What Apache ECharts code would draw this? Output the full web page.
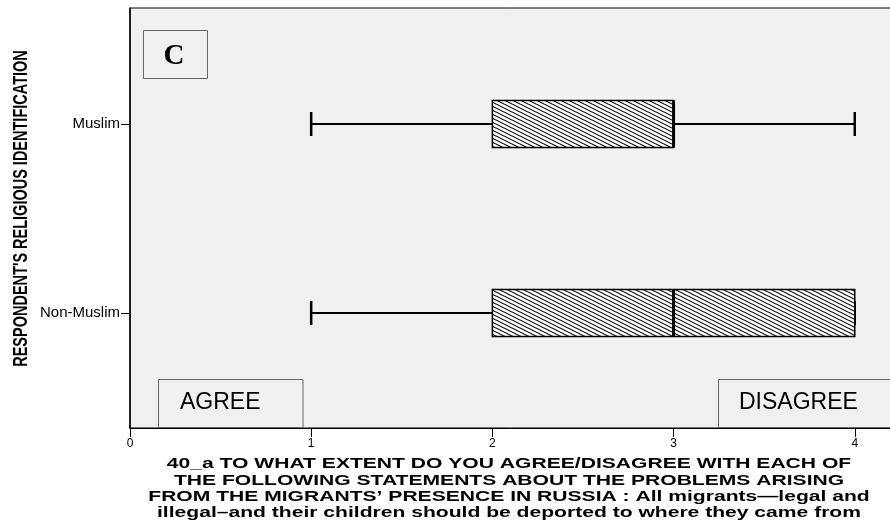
<!DOCTYPE html>
<html>
<head>
<meta charset="utf-8">
<script src="https://cdn.jsdelivr.net/npm/echarts@6/dist/echarts.min.js"></script>
<style>
html,body{margin:0;padding:0;background:#fff;overflow:hidden;}
#chart{width:890px;height:524px;}
</style>
</head>
<body>
<div id="chart"></div>
<script>
// ---- data ----
const categories = ['Muslim', 'Non-Muslim'];
const whiskerLow = [1, 1];
const quartile1 = [2, 2];
const medians = [3, 3];
const quartile3 = [3, 4];
const whiskerHigh = [4, 4];
const xTicks = [0, 1, 2, 3, 4];
const xTitleLines = [
  '40_a TO WHAT EXTENT DO YOU AGREE/DISAGREE WITH EACH OF',
  'THE FOLLOWING STATEMENTS ABOUT THE PROBLEMS ARISING',
  'FROM THE MIGRANTS\u2019 PRESENCE IN RUSSIA : All migrants\u2014legal and',
  'illegal\u2013and their children should be deported to where they came from'
];
const yTitle = 'RESPONDENT\'S RELIGIOUS IDENTIFICATION';

// ---- hatch pattern ----
const tile = document.createElement('canvas');
tile.width = 8; tile.height = 4;
const ctx = tile.getContext('2d');
ctx.fillStyle = '#fff';
ctx.fillRect(0, 0, 8, 4);
ctx.strokeStyle = '#000';
ctx.lineWidth = 1.1;
for (let k = -2; k <= 2; k++) {
  ctx.beginPath();
  ctx.moveTo(0, k * 4);
  ctx.lineTo(8, k * 4 + 4);
  ctx.stroke();
}
const hatch = { image: tile, repeat: 'repeat' };

const boxData = categories.map((c, i) => [c, whiskerLow[i], quartile1[i], medians[i], quartile3[i], whiskerHigh[i]]);

function renderBox(params, api) {
  const cat = api.value(0);
  const lo = api.coord([api.value(1), cat]);
  const q1 = api.coord([api.value(2), cat]);
  const md = api.coord([api.value(3), cat]);
  const q3 = api.coord([api.value(4), cat]);
  const hi = api.coord([api.value(5), cat]);
  const band = api.size([0, 1])[1];
  const bh = band * 0.249;
  const ch = band * 0.127;
  const y = lo[1];
  const stroke = '#000';
  return {
    type: 'group',
    children: [
      { type: 'line', shape: { x1: lo[0], y1: y, x2: q1[0], y2: y }, style: { stroke, lineWidth: 2 } },
      { type: 'line', shape: { x1: q3[0], y1: y, x2: hi[0], y2: y }, style: { stroke, lineWidth: 2 } },
      { type: 'line', shape: { x1: lo[0], y1: y - ch / 2, x2: lo[0], y2: y + ch / 2 }, style: { stroke, lineWidth: 2.5 } },
      { type: 'line', shape: { x1: hi[0], y1: y - ch / 2, x2: hi[0], y2: y + ch / 2 }, style: { stroke, lineWidth: 2.5 } },
      { type: 'rect', shape: { x: q1[0], y: y - bh / 2, width: q3[0] - q1[0], height: bh }, style: { fill: hatch, stroke, lineWidth: 1.5 } },
      { type: 'line', shape: { x1: md[0], y1: y - bh / 2, x2: md[0], y2: y + bh / 2 }, style: { stroke, lineWidth: 3 } }
    ]
  };
}

const chart = echarts.init(document.getElementById('chart'), null, { renderer: 'canvas' });
const option = {
  backgroundColor: '#fff',
  animation: false,
  grid: [
    { left: 130, top: 8, width: 761, height: 420, outerBoundsMode: 'none', containLabel: false, show: true, backgroundColor: '#f0f0f0', borderColor: '#000', borderWidth: 1 },
    { left: 130, top: 29.5, width: 761, height: 378, outerBoundsMode: 'none', containLabel: false }
  ],
  xAxis: [
    {
      gridIndex: 0, type: 'value', min: xTicks[0], max: 4.2, interval: 1,
      splitLine: { show: false },
      axisLine: { show: true, lineStyle: { color: '#000', width: 1 } },
      axisTick: { show: true, length: 9, lineStyle: { color: '#000', width: 1 } },
      axisLabel: {
        color: '#000', fontSize: 12, fontFamily: 'Liberation Sans', margin: 10,
        formatter: v => (xTicks.indexOf(v) >= 0 ? String(v) : '')
      }
    },
    { gridIndex: 1, type: 'value', min: xTicks[0], max: 4.2, show: false }
  ],
  yAxis: [
    {
      gridIndex: 0, type: 'value', min: 0, max: 1,
      splitLine: { show: false }, axisTick: { show: false }, axisLabel: { show: false },
      axisLine: { show: true, lineStyle: { color: '#000', width: 1.5 } }
    },
    {
      gridIndex: 1, type: 'category', data: categories, inverse: true,
      axisLine: { show: false },
      splitLine: { show: false },
      axisTick: { show: true, alignWithLabel: true, length: 9, lineStyle: { color: '#000', width: 1 } },
      axisLabel: { color: '#000', fontSize: 15, fontFamily: 'Liberation Sans', margin: 10 }
    }
  ],
  series: [
    {
      type: 'custom', xAxisIndex: 1, yAxisIndex: 1,
      renderItem: renderBox,
      encode: { y: 0, x: [1, 2, 3, 4, 5] },
      data: boxData,
      z: 5
    }
  ],
  graphic: [
    { type: 'rect', shape: { x: 143.5, y: 30.5, width: 64, height: 48 }, style: { fill: '#f0f0f0', stroke: '#666', lineWidth: 1 }, z: 10 },
    { type: 'text', x: 174, y: 57, style: { text: 'C', font: 'bold 29px "Liberation Serif"', fill: '#000', textAlign: 'center', textVerticalAlign: 'middle' }, z: 11 },
    { type: 'rect', shape: { x: 158.5, y: 379.5, width: 144.5, height: 48 }, style: { fill: '#f0f0f0', stroke: '#666', lineWidth: 1 }, z: 10 },
    { type: 'text', x: 180, y: 403, style: { text: 'AGREE', font: '23px "Liberation Sans"', fill: '#000', textAlign: 'left', textVerticalAlign: 'middle' }, z: 11 },
    { type: 'rect', shape: { x: 718.5, y: 379.5, width: 200, height: 48 }, style: { fill: '#f0f0f0', stroke: '#666', lineWidth: 1 }, z: 10 },
    { type: 'text', x: 739, y: 403, style: { text: 'DISAGREE', font: '23px "Liberation Sans"', fill: '#000', textAlign: 'left', textVerticalAlign: 'middle' }, z: 11 },
    { type: 'text', x: 509, y: 456, scaleX: 1.36, style: { text: xTitleLines.join('\n'), font: 'bold 15.5px "Liberation Sans"', lineHeight: 16.3, fill: '#000', textAlign: 'center', textVerticalAlign: 'top' }, z: 11 },
    { type: 'text', x: 21, y: 208.5, rotation: Math.PI / 2, scaleY: 1.4, style: { text: yTitle, font: 'bold 14.5px "Liberation Sans"', fill: '#000', textAlign: 'center', textVerticalAlign: 'middle' }, z: 11 }
  ]
};
chart.setOption(option);
</script>
</body>
</html>
